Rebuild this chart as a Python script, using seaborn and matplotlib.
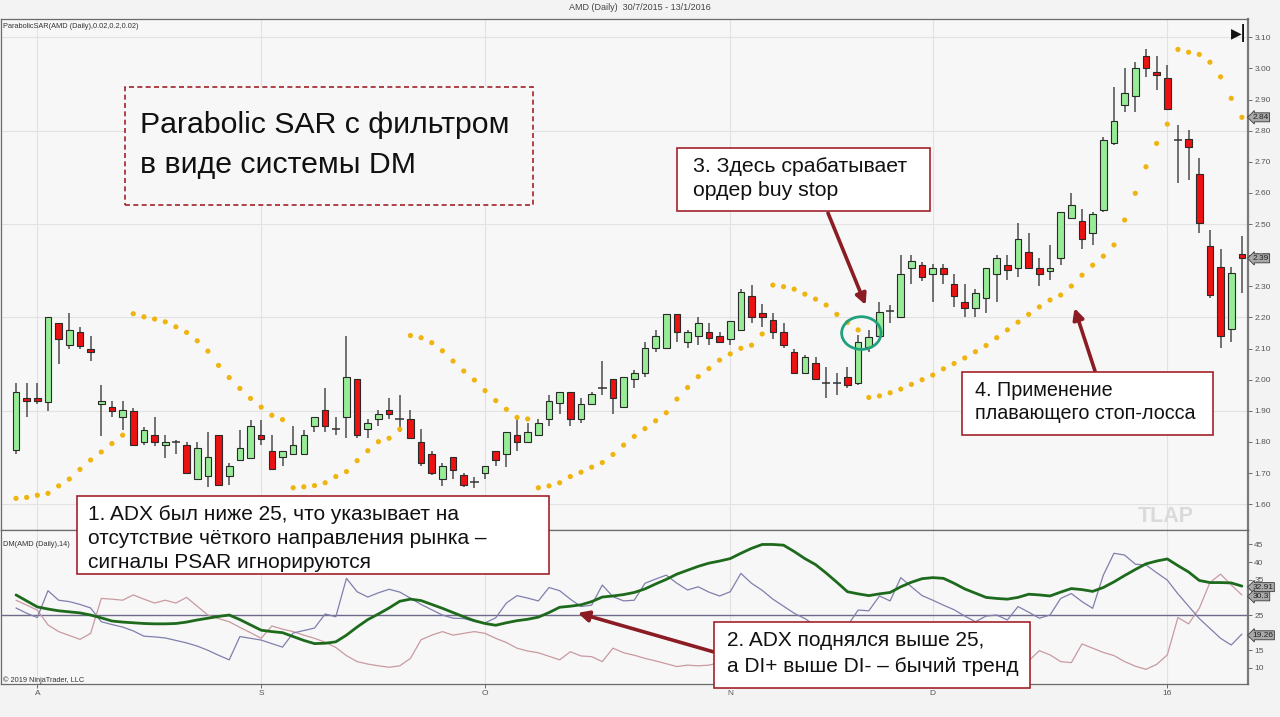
import numpy as np
import pandas as pd
import matplotlib
matplotlib.use('Agg')
import matplotlib.pyplot as plt
import seaborn as sns
from matplotlib.patches import Ellipse, Rectangle
import matplotlib.transforms as mtransforms

sns.set_theme(style='white')
plt.rcParams['font.family'] = ['Liberation Sans', 'DejaVu Sans']

# ---------------- data ----------------
open_ = [1.773,1.940,1.940,1.930,2.181,2.110,2.152,2.100,1.922,1.912,
         1.881,1.900,1.801,1.822,1.789,1.801,1.790,1.681,1.691,1.822,
         1.691,1.742,1.750,1.822,1.772,1.752,1.761,1.761,1.852,1.903,
         1.841,1.881,2.001,1.841,1.873,1.903,1.873,1.873,1.801,1.760,
         1.681,1.753,1.694,1.673,1.701,1.772,1.760,1.823,1.801,1.823,
         1.873,1.924,1.962,1.873,1.922,1.972,2.001,1.911,2.001,2.023,
         2.101,2.101,2.211,2.122,2.141,2.152,2.141,2.131,2.160,2.269,
         2.213,2.192,2.152,2.090,2.023,2.053,1.990,1.990,2.010,1.988,
         2.106,2.141,2.222,2.200,2.358,2.368,2.340,2.360,2.309,2.250,
         2.231,2.261,2.341,2.368,2.360,2.411,2.360,2.350,2.390,2.518,
         2.510,2.470,2.545,2.761,2.882,2.911,3.040,2.989,2.968,2.770,
         2.772,2.661,2.431,2.362,2.162,2.403]
close = [1.959,1.931,1.931,2.202,2.130,2.161,2.109,2.090,1.932,1.901,
         1.902,1.790,1.840,1.801,1.801,1.801,1.701,1.781,1.751,1.661,
         1.722,1.781,1.852,1.811,1.712,1.772,1.790,1.822,1.881,1.851,
         1.841,2.010,1.823,1.860,1.890,1.890,1.873,1.812,1.731,1.701,
         1.723,1.710,1.662,1.673,1.723,1.742,1.831,1.801,1.831,1.860,
         1.932,1.962,1.873,1.922,1.953,1.972,1.940,2.010,2.023,2.101,
         2.141,2.211,2.152,2.152,2.181,2.133,2.122,2.190,2.283,2.203,
         2.203,2.152,2.111,2.023,2.072,2.001,1.990,1.990,1.983,2.122,
         2.138,2.219,2.222,2.341,2.382,2.331,2.360,2.340,2.268,2.231,
         2.280,2.360,2.390,2.352,2.451,2.360,2.341,2.360,2.540,2.561,
         2.451,2.531,2.770,2.831,2.920,3.000,3.000,2.979,2.869,2.770,
         2.749,2.502,2.272,2.140,2.342,2.390]
high = [1.991,1.991,1.991,2.202,2.181,2.213,2.170,2.140,1.982,1.931,
        1.931,1.910,1.849,1.881,1.822,1.808,1.801,1.801,1.832,1.822,
        1.731,1.840,1.872,1.872,1.822,1.772,1.852,1.840,1.881,1.972,
        1.881,2.141,2.001,1.873,1.903,1.940,1.951,1.903,1.841,1.771,
        1.731,1.753,1.701,1.689,1.723,1.772,1.831,1.881,1.860,1.873,
        1.951,1.962,1.962,1.940,1.962,2.061,2.001,2.010,2.031,2.122,
        2.160,2.211,2.211,2.160,2.203,2.181,2.152,2.190,2.290,2.304,
        2.243,2.213,2.181,2.098,2.079,2.072,2.042,2.023,2.042,2.144,
        2.160,2.251,2.240,2.400,2.400,2.379,2.372,2.372,2.341,2.309,
        2.290,2.360,2.400,2.400,2.502,2.470,2.390,2.432,2.540,2.599,
        2.550,2.540,2.781,2.941,3.000,3.022,3.061,3.040,3.011,2.818,
        2.802,2.711,2.481,2.419,2.361,2.462]
low = [1.761,1.881,1.922,1.900,2.050,2.100,2.100,2.060,1.820,1.881,
       1.838,1.790,1.789,1.788,1.750,1.761,1.701,1.681,1.654,1.659,
       1.661,1.742,1.750,1.790,1.712,1.722,1.761,1.761,1.831,1.833,
       1.823,1.812,1.812,1.812,1.851,1.873,1.833,1.812,1.724,1.694,
       1.660,1.681,1.656,1.651,1.681,1.724,1.721,1.772,1.801,1.823,
       1.851,1.890,1.851,1.860,1.922,1.951,1.890,1.911,1.972,2.010,
       2.090,2.101,2.122,2.101,2.111,2.111,2.122,2.111,2.160,2.181,
       2.170,2.131,2.101,2.023,2.023,2.001,1.940,1.951,1.972,1.983,
       2.090,2.141,2.181,2.197,2.309,2.318,2.250,2.309,2.234,2.202,
       2.202,2.213,2.250,2.320,2.331,2.360,2.301,2.320,2.368,2.518,
       2.419,2.432,2.540,2.754,2.861,2.861,2.971,2.931,2.869,2.631,
       2.641,2.470,2.261,2.101,2.122,2.279]
psar = [1.619,1.622,1.629,1.635,1.659,1.681,1.712,1.742,1.768,1.795,
        1.822,2.212,2.202,2.195,2.186,2.170,2.152,2.125,2.092,2.046,
        2.007,1.972,1.940,1.912,1.886,1.872,1.653,1.656,1.660,1.669,
        1.689,1.705,1.740,1.772,1.801,1.812,1.841,2.142,2.135,2.119,
        2.093,2.060,2.028,1.999,1.965,1.933,1.905,1.879,1.874,1.653,
        1.659,1.669,1.689,1.703,1.719,1.734,1.760,1.790,1.818,1.843,
        1.868,1.894,1.938,1.975,2.010,2.036,2.063,2.083,2.101,2.111,
        2.147,2.304,2.299,2.291,2.275,2.259,2.240,2.210,2.184,2.160,
        1.943,1.948,1.958,1.970,1.985,2.000,2.015,2.035,2.052,2.070,
        2.090,2.110,2.135,2.160,2.185,2.210,2.234,2.256,2.272,2.301,
        2.336,2.368,2.397,2.433,2.513,2.599,2.684,2.759,2.821,3.061,
        3.052,3.045,3.020,2.973,2.904,2.843]
adx = [30.7,29.0,27.3,26.7,26.2,25.9,25.6,25.0,24.2,23.3,
       23.0,22.8,22.6,22.5,22.5,22.6,23.0,23.6,24.1,24.6,
       25.0,23.7,22.2,20.7,20.3,20.0,18.9,17.8,16.9,17.0,
       17.4,19.3,21.6,23.7,25.3,27.0,28.9,29.5,29.1,28.0,
       26.9,25.7,24.5,23.4,22.6,22.1,22.8,23.4,23.8,24.4,
       25.7,27.2,27.5,27.9,28.8,30.1,30.4,30.8,31.4,32.4,
       33.8,35.1,36.6,37.7,38.8,39.7,40.3,41.0,42.5,43.9,
       45.0,45.0,44.8,43.0,41.0,39.3,36.9,34.3,31.6,31.0,
       30.5,31.0,31.4,33.0,34.3,35.3,35.6,35.4,34.0,32.4,
       31.2,30.0,29.7,29.5,30.0,30.9,30.7,30.4,31.5,32.5,
       32.2,31.7,32.8,34.4,36.2,37.9,39.5,40.3,40.9,39.0,
       37.2,34.8,34.2,34.2,34.1,33.2]
di_plus = [27.0,25.5,24.3,31.9,29.2,28.8,28.0,27.0,23.1,22.3,
           21.6,20.5,19.0,18.8,18.5,17.8,17.1,16.2,15.0,13.6,
           12.3,18.9,18.4,17.9,16.9,15.9,19.9,20.6,21.3,25.3,
           24.5,35.4,31.6,30.1,31.3,32.3,31.5,29.8,28.0,26.5,
           25.0,24.1,24.0,23.2,22.8,24.2,28.4,30.5,29.8,29.0,
           32.8,31.9,29.5,27.4,27.8,33.5,30.2,29.0,29.2,34.0,
           35.2,36.3,34.0,32.1,33.0,31.5,30.4,31.6,36.8,34.0,
           32.0,29.5,27.5,25.5,24.0,22.0,20.5,19.5,22.0,26.4,
           26.2,30.4,29.0,35.6,33.0,30.5,29.2,27.8,26.5,24.7,
           23.1,24.7,25.0,23.6,27.4,25.8,24.1,25.0,29.7,31.1,
           28.8,26.9,36.3,42.5,42.0,39.4,39.2,37.0,34.9,31.0,
           27.5,24.0,21.2,18.4,16.5,19.6]
di_minus = [29.2,27.8,26.4,22.2,20.3,19.2,18.1,19.8,29.7,29.5,
            29.2,30.7,29.5,28.4,29.2,28.4,30.0,27.5,25.0,24.0,
            23.1,21.5,20.0,18.4,21.9,21.0,20.3,19.3,18.4,17.3,
            15.8,13.5,11.8,11.1,10.6,10.2,10.6,12.7,18.0,19.3,
            20.3,19.3,19.8,20.3,19.8,18.4,17.2,15.6,14.8,14.3,
            13.3,12.3,14.6,13.4,13.2,11.8,15.6,14.3,13.6,12.7,
            12.0,11.2,10.4,10.8,10.6,10.8,11.5,11.0,10.5,12.5,
            13.0,15.0,16.5,19.0,18.5,20.5,20.0,20.0,21.0,18.0,
            17.0,15.5,15.0,13.5,13.0,12.5,12.0,11.5,13.0,14.0,
            13.0,12.5,12.0,13.0,12.5,12.0,14.9,13.7,11.8,11.5,
            16.8,15.6,14.4,13.5,11.8,10.5,9.6,11.0,13.7,24.3,
            22.5,26.9,34.2,36.6,33.5,30.7]
month_pos = [2, 23, 44, 67, 86, 108]
month_lab = ['A', 'S', 'O', 'N', 'D', '16']
price_ticks = [1.60,1.70,1.80,1.90,2.00,2.10,2.20,2.30,2.40,2.50,2.60,2.70,2.80,2.90,3.00,3.10]
price_grid = [1.60, 1.90, 2.20, 2.50, 2.80, 3.10]
dm_ticks = [10, 15, 25, 35, 40, 45]

idx = np.arange(len(open_))
df = pd.DataFrame({'i': idx, 'o': open_, 'h': high, 'l': low, 'c': close,
                   'psar': psar, 'adx': adx, 'dip': di_plus, 'dim': di_minus})

# ---------------- figure ----------------
W, H = 1280, 717
fig = plt.figure(figsize=(12.8, 7.17), dpi=100, facecolor='#f3f3f3')
L, R = 1, 1248
ax = fig.add_axes([L / W, 1 - 530 / H, (R - L) / W, (530 - 19) / H])
ax2 = fig.add_axes([L / W, 1 - 684 / H, (R - L) / W, (684 - 530) / H], sharex=ax)
xlim = ((L - 16) / 10.66, (R - 16) / 10.66)

for a in (ax, ax2):
    a.set_facecolor('#f7f7f7')
    for s in a.spines.values():
        s.set_color('#6a6a6a')
        s.set_linewidth(0.9)
    a.spines['right'].set_linewidth(1.6)
    a.spines['right'].set_color('#7a7a7a')
    a.yaxis.tick_right()
    a.tick_params(axis='y', which='both', right=True, left=False, length=3,
                  width=0.6, color='#555', labelsize=6, labelcolor='#555', pad=1.5)
    for p in month_pos:
        a.axvline(p, color='#e2e2e2', lw=0.8, zorder=0)

# price panel
for g in price_grid:
    ax.axhline(g, color='#e2e2e2', lw=0.8, zorder=0)

up = df['c'] >= df['o']
ax.vlines(df['i'], df['l'], df['h'], color='#4d4d4d', lw=1.1, zorder=2)
body_h = (df['c'] - df['o']).abs()
bott = df[['o', 'c']].min(axis=1)
big = body_h > 0.004
colors = np.where(up, '#98ec98', '#ee1111')
ax.bar(df['i'][big], body_h[big], bottom=bott[big], width=0.62,
       color=colors[big.values], edgecolor='#2a2a2a', linewidth=0.8, zorder=3)
small = (~big) & (body_h >= 0.001)
ax.bar(df['i'][small], [0.009] * small.sum(), bottom=bott[small] - 0.0045, width=0.62,
       color=colors[small.values], edgecolor='#2a2a2a', linewidth=0.6, zorder=3)
doji = body_h < 0.001
ax.hlines(df['o'][doji], df['i'][doji] - 0.4, df['i'][doji] + 0.4, color='#333', lw=1.1, zorder=4)

sns.scatterplot(data=df, x='i', y='psar', ax=ax, color='#f0b410', s=14,
                edgecolor='none', zorder=5, legend=False)

ax.set_ylim(1.5173, 3.1588)
ax.set_yticks(price_ticks)
ax.set_yticklabels([f'{t:.2f}' for t in price_ticks])
ax.set_xlim(*xlim)
ax.set_xlabel('')
ax.set_ylabel('')
ax.tick_params(axis='x', bottom=False, labelbottom=False)

# DM panel
ax2.axhline(25, color='#6e6a8a', lw=1.0, zorder=1)
sns.lineplot(data=df, x='i', y='dim', ax=ax2, color='#c99aa0', lw=0.9, zorder=2)
sns.lineplot(data=df, x='i', y='dip', ax=ax2, color='#7f7fae', lw=0.9, zorder=3)
sns.lineplot(data=df, x='i', y='adx', ax=ax2, color='#1d6a1d', lw=2.0, zorder=4)
ax2.set_ylim(5.45, 49.1)
ax2.set_yticks(dm_ticks)
ax2.set_yticklabels([str(t) for t in dm_ticks])
ax2.set_xlim(*xlim)
ax2.set_xticks(month_pos)
ax2.set_xticklabels(month_lab)
ax2.tick_params(axis='x', bottom=True, length=3, width=0.6, color='#555',
                labelsize=6, labelcolor='#555', pad=1.5)
ax2.set_xlabel('')
ax2.set_ylabel('')

# value tags
def tag(a, y, s):
    tr = mtransforms.blended_transform_factory(a.transAxes, a.transData)
    a.text(1.0035, y, s, transform=tr, fontsize=6, color='#222', va='center', ha='left',
           bbox=dict(boxstyle='larrow,pad=0.12', fc='#a9a9a9', ec='#3a3a3a', lw=0.6),
           zorder=10, clip_on=False)

tag(ax, psar[-1], f'{psar[-1]:.2f}')
tag(ax, close[-1], f'{close[-1]:.2f}')
tag(ax2, 32.91, '32.91')
tag(ax2, 30.3, '30.3')
tag(ax2, 19.26, '19.26')

# texts
def fx(x):
    return x / W
def fy(y):
    return 1 - y / H

fig.text(fx(640), fy(8), 'AMD (Daily)  30/7/2015 - 13/1/2016', fontsize=6.5,
         color='#444', ha='center', va='center')
fig.text(fx(3), fy(27), 'ParabolicSAR(AMD (Daily),0.02,0.2,0.02)', fontsize=5.3,
         color='#333', ha='left', va='center')
fig.text(fx(3), fy(545), 'DM(AMD (Daily),14)', fontsize=5.3, color='#333', ha='left', va='center')
fig.text(fx(3), fy(680), '\u00a9 2019 NinjaTrader, LLC', fontsize=5.3, color='#333',
         ha='left', va='center')
fig.text(fx(1166), fy(516), 'TLAP', fontsize=15.5, color='#dadada', fontweight='bold',
         ha='center', va='center')
fig.text(fx(1236), fy(33), '\u25b6', fontsize=10, color='#111', ha='center', va='center',
         family=['DejaVu Sans'])
fig.text(fx(1243), fy(33), '|', fontsize=12, color='#111', ha='center', va='center',
         fontweight='bold', family=['DejaVu Sans'])

def box(x0, y0, x1, y1, ls='-', fc='white'):
    r = Rectangle((fx(x0), fy(y1)), fx(x1) - fx(x0), fy(y0) - fy(y1), transform=fig.transFigure,
                  fc=fc, ec='#a3222a', lw=1.2, ls=ls, zorder=20)
    fig.add_artist(r)

def txt(x, y, s, size):
    fig.text(fx(x), fy(y), s, fontsize=size, color='#111', ha='left', va='center', zorder=21)

red = '#8b1c24'
# title box
box(125, 87, 533, 205, ls=(0, (3, 2)), fc='#f7f7f7')
txt(140, 125, 'Parabolic SAR с фильтром', 21.8)
txt(140, 165, 'в виде системы DM', 21.8)

box(677, 148, 930, 211)
txt(693, 166, '3. Здесь срабатывает', 15.3)
txt(693, 190, 'ордер buy stop', 15.3)

box(962, 372, 1213, 435)
txt(975, 391, '4. Применение', 14.2)
txt(975, 414, 'плавающего стоп-лосса', 14.2)

box(77, 496, 549, 574)
txt(88, 515, '1. ADX был ниже 25, что указывает на', 15)
txt(88, 539, 'отсутствие чёткого направления рынка –', 15)
txt(88, 562, 'сигналы PSAR игнорируются', 15)

box(714, 622, 1030, 688)
txt(727, 640, '2. ADX поднялся выше 25,', 15)
txt(727, 666, 'а DI+ выше DI- – бычий тренд', 15)

# arrows
ap = dict(arrowstyle='-|>', color=red, lw=2.6, mutation_scale=16, shrinkA=0, shrinkB=0)
ax.annotate('', xy=(79.7, 2.240), xycoords='data', xytext=(828, H - 213),
            textcoords='figure pixels', arrowprops=ap, zorder=15, annotation_clip=False)
ax.annotate('', xy=(99.3, 2.230), xycoords='data', xytext=(1095, H - 371),
            textcoords='figure pixels', arrowprops=ap, zorder=15, annotation_clip=False)
ax2.annotate('', xy=(52.7, 25.6), xycoords='data', xytext=(714, H - 652),
             textcoords='figure pixels', arrowprops=ap, zorder=15, annotation_clip=False)

ax.add_patch(Ellipse((79.3, 2.150), 3.7, 0.105, fill=False, ec='#21a07c', lw=2.0, zorder=6))

fig.savefig('out.png', dpi=100, facecolor=fig.get_facecolor())
